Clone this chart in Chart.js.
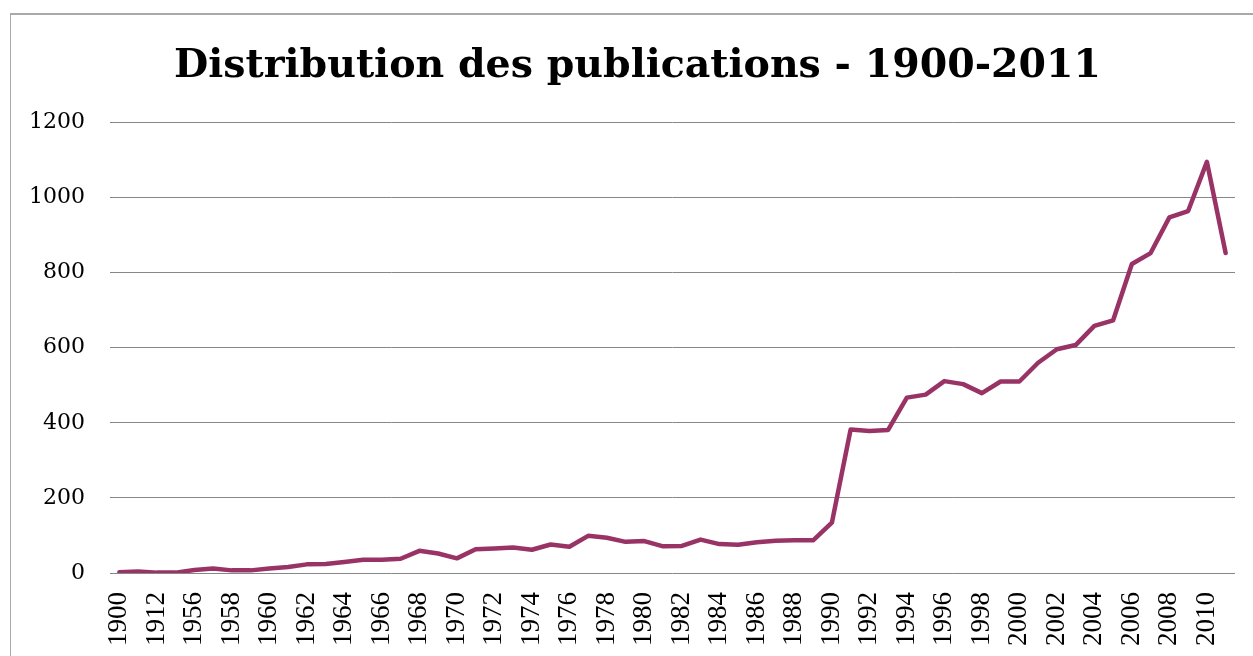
<!DOCTYPE html>
<html>
<head>
<meta charset="utf-8">
<script src="https://cdn.jsdelivr.net/npm/chart.js@4/dist/chart.umd.min.js"></script>
<style>
  html, body { margin: 0; padding: 0; background: #fff; overflow: hidden; }
  #frame { position: absolute; left: 10px; top: 13px; width: 1300px; height: 700px;
           border-top: 2px solid #a9a9a9; border-left: 1px solid #a9a9a9; }
  #wrap { position: absolute; left: 0; top: 0; width: 1253px; height: 656px; }
</style>
</head>
<body>
<div id="frame"></div>
<div id="wrap"><canvas id="chartPubs"></canvas></div>
<script>
const PLUM = "#993366", GRID = "#878787", INK = "#000";
const SERIF = "'Liberation Serif', 'Times New Roman', serif";
const SLAB = "'DejaVu Serif', serif";

const YEARS = [
  "1900", "1910", "1912", "1955", "1956", "1957", "1958", "1959", "1960", "1961",
  "1962", "1963", "1964", "1965", "1966", "1967", "1968", "1969", "1970", "1971",
  "1972", "1973", "1974", "1975", "1976", "1977", "1978", "1979", "1980", "1981",
  "1982", "1983", "1984", "1985", "1986", "1987", "1988", "1989", "1990", "1991",
  "1992", "1993", "1994", "1995", "1996", "1997", "1998", "1999", "2000", "2001",
  "2002", "2003", "2004", "2005", "2006", "2007", "2008", "2009", "2010", "2011"
];
const PUBLICATIONS = [
  2, 4, 1, 1, 8, 12, 7, 7, 12, 16,
  23, 24, 29, 35, 35, 38, 59, 52, 39, 63,
  65, 68, 62, 76, 70, 99, 94, 83, 85, 71,
  72, 89, 77, 75, 82, 86, 87, 87, 134, 382,
  378, 381, 467, 475, 511, 503, 479, 510, 510, 560,
  596, 607, 658, 673, 823, 852, 947, 964, 1095, 852
];
const Y_TICKS = [0, 200, 400, 600, 800, 1000, 1200];

new Chart(document.getElementById("chartPubs"), {
  type: "line",
  data: {
    labels: YEARS,
    datasets: [{
      label: "Publications",
      data: PUBLICATIONS,
      borderColor: PLUM,
      borderWidth: 4.5,
      borderCapStyle: "round",
      borderJoinStyle: "round",
      pointRadius: 0,
      tension: 0,
      fill: false
    }]
  },
  options: {
    responsive: true,
    maintainAspectRatio: false,
    animation: false,
    layout: { padding: { left: 22, right: 0, top: 0, bottom: 0 } },
    plugins: {
      legend: { display: false },
      tooltip: { enabled: false },
      title: {
        display: true,
        text: "Distribution des publications - 1900-2011",
        color: INK,
        font: { family: SLAB, size: 39.5, weight: "bold" },
        padding: { top: 43, bottom: 32 }
      }
    },
    scales: {
      x: {
        offset: true,
        grid: { display: false, drawTicks: false },
        border: { display: false },
        afterFit: (s) => { s.height = 83; s.paddingLeft = 0; s.paddingRight = 0; },
        ticks: {
          autoSkip: false,
          minRotation: 90,
          maxRotation: 90,
          padding: 19,
          color: INK,
          font: { family: SERIF, size: 27 },
          callback: (v, i) => (i % 2 === 0 ? YEARS[i] : "")
        }
      },
      y: {
        min: 0,
        max: 1200,
        afterFit: (s) => { s.width = 88; },
        afterBuildTicks: (s) => { s.ticks = Y_TICKS.map(v => ({ value: v })); },
        grid: { color: GRID, lineWidth: 1, drawTicks: true, tickLength: 0 },
        border: { display: false },
        ticks: {
          padding: 25,
          color: INK,
          font: { family: SLAB, size: 22 },
          callback: (v) => String(v)
        }
      },
      // empty right-hand gutter so the plot stops short of the frame edge
      gutter: {
        type: "linear",
        position: "right",
        grid: { display: false, drawTicks: false },
        border: { display: false },
        ticks: { display: false },
        afterFit: (s) => { s.width = 18; }
      }
    }
  }
});
</script>
</body>
</html>
